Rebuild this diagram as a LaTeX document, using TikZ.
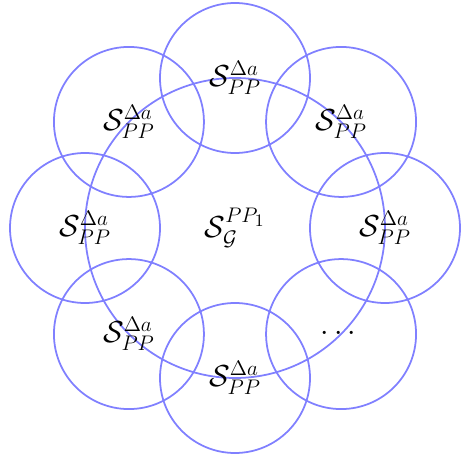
\documentclass[tikz,border=0pt]{standalone}
\usepackage{amsmath}
\usetikzlibrary{positioning}
\definecolor{ringblue}{RGB}{128,128,255}

\begin{document}
\begin{tikzpicture}
        \tikzset{ring/.style={circle,draw=ringblue,line width=1pt,inner sep=0pt,font=\LARGE}}
        \useasboundingbox (-4.7,-4.68) rectangle (4.5,4.56);
        \node[ring,minimum size=6cm] (big) at (0,0) {$\mathcal{S}^{PP_1}_{\mathcal{G}}$};
        \foreach \a/\n in {90/top,45/topright,0/right,-90/bottom,-135/botleft,180/left,135/topleft}
          \node[ring,minimum size=3cm] (\n) at (\a:3) {$\mathcal{S}^{\Delta a}_{PP}$};
        \node[ring,minimum size=3cm] (botright) at (-45:3) {$\cdots$};
      \end{tikzpicture}
\end{document}
